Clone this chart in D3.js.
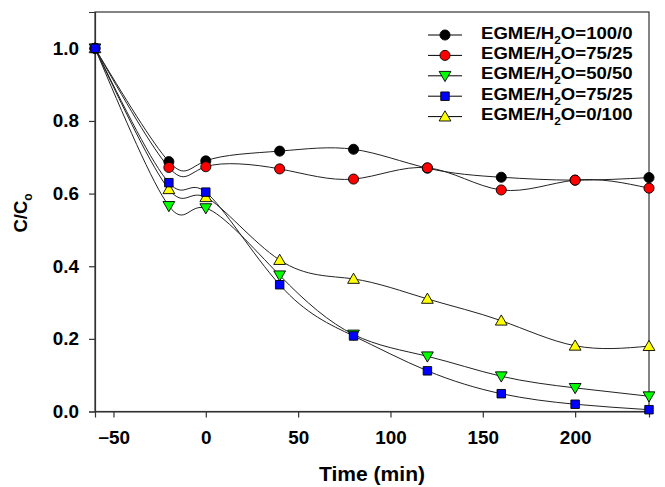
<!DOCTYPE html>
<html><head><meta charset="utf-8">
<script src="https://cdn.jsdelivr.net/npm/d3@7"></script>
<style>
html,body{margin:0;padding:0;background:#fff;}
svg{display:block;font-family:"Liberation Sans",Arial,sans-serif;font-weight:bold;}
</style></head>
<body>
<svg id="chart" width="665" height="487"></svg>
<script>
const times = [-60, -20, 0, 40, 80, 120, 160, 200, 240];
const s100_0  = [1.0, 0.688, 0.690, 0.717, 0.722, 0.670, 0.645, 0.637, 0.644];
const s75_25  = [1.0, 0.672, 0.674, 0.668, 0.640, 0.671, 0.610, 0.637, 0.615];
const s50_50  = [1.0, 0.566, 0.560, 0.375, 0.212, 0.152, 0.097, 0.065, 0.042];
const s75_25b = [1.0, 0.630, 0.604, 0.349, 0.208, 0.112, 0.049, 0.020, 0.005];
const s0_100  = [1.0, 0.612, 0.590, 0.417, 0.365, 0.310, 0.250, 0.181, 0.180];
const seriesNames = ["100/0", "75/25", "50/50", "75/25", "0/100"];
const seriesColors = ["#000000", "#ff0000", "#00ff00", "#0000ff", "#ffff00"];
const seriesShapes = ["circle", "circle", "triDown", "square", "triUp"];
const seriesValues = [s100_0, s75_25, s50_50, s75_25b, s0_100];
const xTicks = [-50, 0, 50, 100, 150, 200];
const yTicks = [0.0, 0.2, 0.4, 0.6, 0.8, 1.0];

const SX = 1.08; // horizontal stretch of the original lettering
const svg = d3.select("#chart");
const L = 95, R = 649, T = 12, B = 411.5;
const x = d3.scaleLinear().domain([-60, 240]).range([L, R]);
const y = d3.scaleLinear().domain([0, 1.1]).range([B, T]);

// frame
svg.append("rect").attr("x", L).attr("y", T).attr("width", R - L).attr("height", B - T)
  .attr("fill", "none").attr("stroke", "#333").attr("stroke-width", 1.2);

const xAxis = svg.append("g").attr("transform", `translate(0,${B})`)
  .call(d3.axisBottom(x).tickValues(xTicks).tickSize(6).tickPadding(14).tickFormat(d3.format("d")));
const yAxis = svg.append("g").attr("transform", `translate(${L},0)`)
  .call(d3.axisLeft(y).tickValues(yTicks).tickSize(6).tickPadding(10).tickFormat(d3.format(".1f")));
[xAxis, yAxis].forEach(g => {
  g.select(".domain").attr("stroke", "#333").attr("stroke-width", 1.2);
  g.selectAll(".tick line").attr("stroke", "#333").attr("stroke-width", 1.2);
  g.selectAll("text").attr("font-family", "Liberation Sans, Arial, sans-serif")
    .attr("font-weight", "bold").attr("font-size", 17.5).attr("fill", "#000")
    .each(function () {
      const t = d3.select(this);
      const x0 = +(t.attr("x") || 0);
      t.attr("x", x0 / SX).attr("transform", `scale(${SX},1)`);
    });
});
yAxis.selectAll("text").attr("dy", "0.34em");

// axis titles
svg.append("text").attr("transform", `translate(${(L + R) / 2},481) scale(${SX},1)`)
  .attr("text-anchor", "middle").attr("font-size", 19.5).text("Time (min)");
const yl = svg.append("text").attr("transform", "translate(27,213) rotate(-90)")
  .attr("text-anchor", "middle").attr("font-size", 18.5);
yl.append("tspan").text("C/C");
yl.append("tspan").attr("font-size", 12).attr("dy", 5).text("o");

const sym = {
  circle: d3.symbol().type(d3.symbolCircle).size(80),
  square: d3.symbol().type(d3.symbolSquare).size(72),
  triUp: d3.symbol().type(d3.symbolTriangle).size(60),
  triDown: d3.symbol().type(d3.symbolTriangle).size(60)
};
function drawMarker(g, shape, color, px, py) {
  const rot = shape === "triDown" ? 180 : 0;
  const dy = shape === "triUp" ? 1 : (shape === "triDown" ? -1 : 0);
  g.append("path").attr("d", sym[shape]())
    .attr("transform", `translate(${px},${py + dy}) rotate(${rot})`)
    .attr("fill", color).attr("stroke", "#000").attr("stroke-width", 0.9);
}

const line = d3.line().x(d => x(d[0])).y(d => y(d[1])).curve(d3.curveNatural);
const order = [0, 1, 4, 2, 3];
const linesG = svg.append("g");
order.forEach(i => {
  const pts = times.map((t, k) => [t, seriesValues[i][k]]);
  linesG.append("path").datum(pts).attr("d", line)
    .attr("fill", "none").attr("stroke", "#222").attr("stroke-width", 1);
});
const marksG = svg.append("g");
order.forEach(i => {
  times.forEach((t, k) => drawMarker(marksG, seriesShapes[i], seriesColors[i], x(t), y(seriesValues[i][k])));
});

// legend
const lg = svg.append("g");
seriesNames.forEach((n, i) => {
  const cy = 35 + i * 20.4;
  lg.append("line").attr("x1", 428).attr("x2", 462).attr("y1", cy).attr("y2", cy)
    .attr("stroke", "#000").attr("stroke-width", 1);
  drawMarker(lg, seriesShapes[i], seriesColors[i], 445, cy);
  const t = lg.append("text").attr("transform", `translate(481,${cy + 3.5}) scale(${SX},1)`)
    .attr("font-size", 17.2);
  t.append("tspan").text("EGME/H");
  t.append("tspan").attr("font-size", 11).attr("dy", 5).text("2");
  t.append("tspan").attr("dy", -5).text("O=" + n);
});
</script>
</body></html>
